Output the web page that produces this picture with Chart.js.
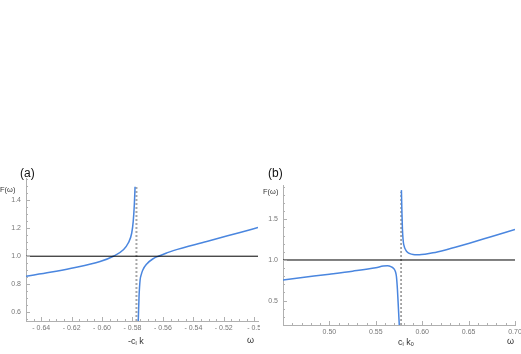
<!DOCTYPE html>
<html>
<head>
<meta charset="utf-8">
<script src="https://cdn.jsdelivr.net/npm/chart.js@4.4.1/dist/chart.umd.min.js"></script>
<style>
    body { margin: 0; background: #fff; }
    #wrap { position: relative; width: 521px; height: 354px; overflow: hidden; font-family: "Liberation Sans", Arial, sans-serif; }
    canvas { position: absolute; }
    .lbl { position: absolute; white-space: nowrap; line-height: 1; }
    .tag { font-size: 12px; color: #111; }
    .ax { font-size: 7.5px; color: #333; }
    .xl { font-size: 9px; color: #333; }
    sub { font-size: 0.6em; vertical-align: -0.25em; }
</style>
</head>
<body>
<div id="wrap">
    <canvas id="chartA" width="260" height="194" style="left:0;top:160px"></canvas>
    <canvas id="chartB" width="261" height="194" style="left:260px;top:160px"></canvas>

    <div class="lbl tag" style="left:20px;top:167px">(a)</div>
    <div class="lbl ax" style="left:0;top:186px">F(&omega;)</div>
    <div class="lbl xl" style="left:128px;top:337px">-c<sub>l</sub> k</div>
    <div class="lbl xl" style="left:247px;top:336px">&omega;</div>

    <div class="lbl tag" style="left:268px;top:167px">(b)</div>
    <div class="lbl ax" style="left:263px;top:188px">F(&omega;)</div>
    <div class="lbl xl" style="left:398px;top:338px">c<sub>l</sub> k<sub>0</sub></div>
    <div class="lbl xl" style="left:507px;top:337px">&omega;</div>
</div>

<script>
// panel (a)
const leftXA = [-0.65, -0.6342, -0.6202, -0.6013, -0.5926, -0.586, -0.5827, -0.5805, -0.5795, -0.5788, -0.5783];
const leftYA = [0.857, 0.885, 0.914, 0.962, 1.0, 1.046, 1.096, 1.166, 1.251, 1.367, 1.497];
const rightXA = [-0.5762, -0.5757, -0.575, -0.5742, -0.5733, -0.5706, -0.5663, -0.563, -0.5575, -0.5532, -0.5312, -0.5093, -0.4975];
const rightYA = [0.537, 0.711, 0.83, 0.87, 0.9, 0.945, 0.983, 1.0, 1.023, 1.040, 1.105, 1.170, 1.205];
const poleA = -0.5774;
const xRangeA = [-0.65, -0.4975];
const yRangeA = [0.537, 1.559];
const xTicksA = [-0.64, -0.62, -0.60, -0.58, -0.56, -0.54, -0.52, -0.50];
const xTickLabelsA = ["- 0.64", "- 0.62", "- 0.60", "- 0.58", "- 0.56", "- 0.54", "- 0.52", "- 0.5"];
const yTicksA = [0.6, 0.8, 1.0, 1.2, 1.4];
const yTickLabelsA = ["0.6", "0.8", "1.0", "1.2", "1.4"];

// panel (b)
const leftXB = [0.45, 0.475, 0.50, 0.525, 0.55, 0.558, 0.5625, 0.5668, 0.5695, 0.5712, 0.5722, 0.5733, 0.5744, 0.5753];
const leftYB = [0.755, 0.79, 0.825, 0.862, 0.905, 0.925, 0.93, 0.916, 0.893, 0.855, 0.80, 0.64, 0.40, 0.2];
const rightXB = [0.5776, 0.5782, 0.5787, 0.5795, 0.5801, 0.583, 0.5855, 0.5883, 0.592, 0.597, 0.603, 0.6116, 0.625, 0.6404, 0.65, 0.675, 0.70];
const rightYB = [1.86, 1.57, 1.38, 1.24, 1.19, 1.11, 1.085, 1.072, 1.066, 1.066, 1.072, 1.088, 1.124, 1.172, 1.204, 1.29, 1.376];
const poleB = 0.5772;
const poleTopB = 1.84;
const xRangeB = [0.45, 0.70];
const yRangeB = [0.2, 1.923];
const xTicksB = [0.50, 0.55, 0.60, 0.65, 0.70];
const xTickLabelsB = ["0.50", "0.55", "0.60", "0.65", "0.70"];
const yTicksB = [0.5, 1.0, 1.5];
const yTickLabelsB = ["0.5", "1.0", "1.5"];

const BLUE = "#4a86df";
const AXIS = "#b0b0b0";
const TICK_TEXT = "#777";

const zip = (xs, ys) => xs.map((x, i) => ({ x, y: ys[i] }));

// Mathematica style ticks pointing into the plot
const inwardTicks = {
    id: "inwardTicks",
    afterDraw(chart, args, opts) {
        const { ctx, chartArea } = chart;
        const xs = chart.scales.x;
        const ys = chart.scales.y;
        ctx.save();
        ctx.strokeStyle = AXIS;
        ctx.lineWidth = 1;
        const run = (scale, step, majors, draw) => {
            const start = Math.ceil(scale.min / step - 1e-6);
            const end = Math.floor(scale.max / step + 1e-6);
            for (let i = start; i <= end; i++) {
                const v = i * step;
                const major = majors.some((m) => Math.abs(m - v) < step / 10);
                draw(Math.round(scale.getPixelForValue(v)) + 0.5, major ? 4 : 2);
            }
        };
        run(xs, opts.xStep, opts.xMajor, (p, len) => {
            ctx.beginPath();
            ctx.moveTo(p, chartArea.bottom);
            ctx.lineTo(p, chartArea.bottom - len);
            ctx.stroke();
        });
        run(ys, opts.yStep, opts.yMajor, (p, len) => {
            ctx.beginPath();
            ctx.moveTo(chartArea.left, p);
            ctx.lineTo(chartArea.left + len, p);
            ctx.stroke();
        });
        ctx.restore();
    },
};

function makeChart(id, cfg) {
    const datasets = [
        { data: [{ x: cfg.xRange[0], y: 1 }, { x: cfg.xRange[1], y: 1 }], borderColor: "#000", borderWidth: 1 },
        { data: zip(cfg.leftX, cfg.leftY), borderColor: BLUE, borderWidth: 1.5, cubicInterpolationMode: "monotone" },
        { data: zip(cfg.rightX, cfg.rightY), borderColor: BLUE, borderWidth: 1.5, cubicInterpolationMode: "monotone" },
        {
            data: [{ x: cfg.pole, y: cfg.yRange[0] }, { x: cfg.pole, y: cfg.poleTop }],
            borderColor: cfg.poleColor,
            borderWidth: cfg.poleWidth,
            borderDash: cfg.poleDash,
        },
    ];
    datasets.forEach((d) => {
        d.showLine = true;
        d.pointRadius = 0;
        d.fill = false;
    });

    return new Chart(document.getElementById(id), {
        type: "scatter",
        data: { datasets },
        options: {
            responsive: false,
            animation: false,
            devicePixelRatio: 1,
            layout: { padding: cfg.padding },
            plugins: {
                legend: { display: false },
                tooltip: { enabled: false },
                inwardTicks: cfg.ticks,
            },
            scales: {
                x: {
                    type: "linear",
                    min: cfg.xRange[0],
                    max: cfg.xRange[1],
                    grid: { display: true, drawOnChartArea: false, drawTicks: false },
                    border: { display: true, color: AXIS, width: 1 },
                    ticks: {
                        autoSkip: false,
                        maxRotation: 0,
                        padding: 3,
                        color: TICK_TEXT,
                        font: { family: "Liberation Sans", size: 7 },
                        callback: (v, i) => cfg.xLabels[i],
                    },
                    afterBuildTicks: (s) => { s.ticks = cfg.xTicks.map((value) => ({ value })); },
                    afterFit: (s) => { s.height = cfg.xHeight; s.paddingLeft = 0; s.paddingRight = 0; },
                },
                y: {
                    type: "linear",
                    min: cfg.yRange[0],
                    max: cfg.yRange[1],
                    grid: { display: true, drawOnChartArea: false, drawTicks: false },
                    border: { display: true, color: AXIS, width: 1 },
                    ticks: {
                        autoSkip: false,
                        padding: 5,
                        color: TICK_TEXT,
                        font: { family: "Liberation Sans", size: 7 },
                        callback: (v, i) => cfg.yLabels[i],
                    },
                    afterBuildTicks: (s) => { s.ticks = cfg.yTicks.map((value) => ({ value })); },
                    afterFit: (s) => { s.width = cfg.yWidth; s.paddingTop = 0; s.paddingBottom = 0; },
                },
            },
        },
        plugins: [inwardTicks],
    });
}

makeChart("chartA", {
    leftX: leftXA, leftY: leftYA, rightX: rightXA, rightY: rightYA,
    pole: poleA, poleTop: 1.5, poleColor: "#a8a8a8", poleWidth: 2, poleDash: [2, 2],
    xRange: xRangeA, yRange: yRangeA,
    xTicks: xTicksA, xLabels: xTickLabelsA, yTicks: yTicksA, yLabels: yTickLabelsA,
    padding: { top: 18, right: 2, left: 0, bottom: 0 },
    xHeight: 33, yWidth: 26,
    ticks: { xStep: 0.005, xMajor: xTicksA, yStep: 0.05, yMajor: yTicksA },
});

makeChart("chartB", {
    leftX: leftXB, leftY: leftYB, rightX: rightXB, rightY: rightYB,
    pole: poleB, poleTop: poleTopB, poleColor: "#555", poleWidth: 1, poleDash: [2, 2],
    xRange: xRangeB, yRange: yRangeB,
    xTicks: xTicksB, xLabels: xTickLabelsB, yTicks: yTicksB, yLabels: yTickLabelsB,
    padding: { top: 25, right: 6, left: 0, bottom: 0 },
    xHeight: 29, yWidth: 23,
    ticks: { xStep: 0.01, xMajor: xTicksB, yStep: 0.1, yMajor: yTicksB },
});
</script>
</body>
</html>
